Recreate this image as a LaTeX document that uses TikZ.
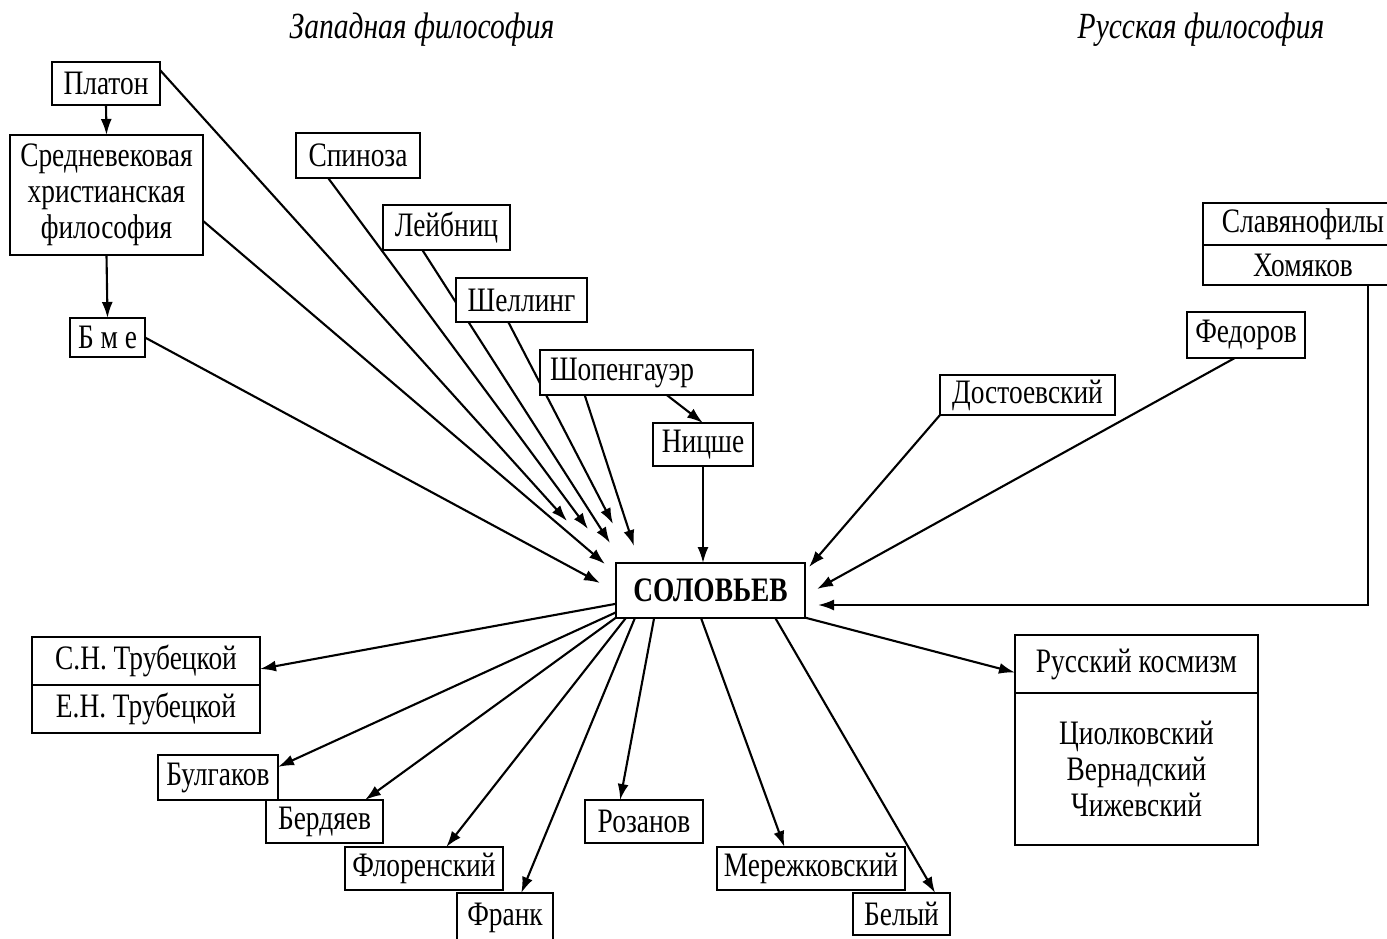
\documentclass[tikz,border=0pt]{standalone}
\usepackage{fontspec}
\setmainfont{Liberation Serif}[FakeStretch=0.8]
\usetikzlibrary{arrows.meta,backgrounds,calc}

\tikzset{
  box/.style={draw, fill=white, line width=1.4pt, inner sep=0pt, outer sep=0pt,
    align=center, font=\fontsize{19.5}{20.5}\selectfont},
  boxsize/.style 2 args={minimum width=#1*0.02cm, minimum height=#2*0.02cm},
  arr/.style={-{Latex[length=3.2mm,width=2.2mm]}, line width=1.2pt},
  heading/.style={font=\fontsize{21}{22}\selectfont\itshape}
}

\begin{document}
\begin{tikzpicture}[x=0.02cm,y=-0.02cm]
    \useasboundingbox (0,0) rectangle (1387,938);

    % Headings
    \node[heading] (west) at (422,30) {Западная философия};
    \node[heading] (east) at (1201,30) {Русская философия};

    % Western philosophy
    \node[box, boxsize={108}{43}] (plato) at (106,83.5) {Платон};
    \node[box, boxsize={193}{120}] (medieval) at (106.5,195) {Средневековая\\христианская\\философия};
    \node[box, boxsize={75}{39}] (bme) at (107.5,337.5) {Б м е};
    \node[box, boxsize={124}{45}] (spinoza) at (358,155.5) {Спиноза};
    \node[box, boxsize={127}{45}] (leibniz) at (446.5,227.5) {Лейбниц};
    \node[box, boxsize={131}{44}] (schelling) at (521.5,300) {Шеллинг};
    \node[box, boxsize={213}{45}, text width=3.86cm, align=left] (schopen) at (646.5,372.5) {Шопенгауэр};
    \node[box, boxsize={100}{43}] (nietzsche) at (703,444.5) {Ницше};

    % Centre
    \node[box, boxsize={189}{55}, font=\fontsize{19.5}{20}\selectfont\bfseries] (solov) at (710.5,590.5) {СОЛОВЬЕВ};

    % Russian philosophy
    \node[box, boxsize={200}{42}] (slavA) at (1303,224) {Славянофилы};
    \node[box, boxsize={200}{40}, anchor=north] (slavB) at (slavA.south) {Хомяков};
    \node[box, boxsize={118}{46}] (fedorov) at (1246,335) {Федоров};
    \node[box, boxsize={175}{40}] (dost) at (1027.5,395) {Достоевский};

    % Followers
    \node[box, boxsize={228}{48}] (trubA) at (146,661) {С.Н. Трубецкой};
    \node[box, boxsize={228}{48}, anchor=north] (trubB) at (trubA.south) {Е.Н. Трубецкой};
    \node[box, boxsize={120}{45}] (bulgakov) at (218,777.5) {Булгаков};
    \node[box, boxsize={117}{43}] (berdyaev) at (324.5,821.5) {Бердяев};
    \node[box, boxsize={158}{43}] (florensky) at (424,868.5) {Флоренский};
    \node[box, boxsize={96}{50}] (frank) at (505,918) {Франк};
    \node[box, boxsize={118}{43}] (rozanov) at (644,821.5) {Розанов};
    \node[box, boxsize={188}{43}] (merezh) at (811,868.5) {Мережковский};
    \node[box, boxsize={97}{42}] (bely) at (901.5,914) {Белый};
    \node[box, boxsize={243}{58}] (cosA) at (1136.5,664) {Русский космизм};
    \node[box, boxsize={243}{152}, anchor=north] (cosB) at (cosA.south) {Циолковский\\Вернадский\\Чижевский};

    % Arrow tips round Solovyov
    \coordinate (inPlato) at (567,521);
    \coordinate (inSpinoza) at (588,529);
    \coordinate (inSchelling) at (613,524);
    \coordinate (inLeibniz) at (610,543);
    \coordinate (inSchopen) at (634,546);
    \coordinate (inMedieval) at (605,564);
    \coordinate (inBme) at (600,583);
    \coordinate (inDost) at (809,567);
    \coordinate (inFedorov) at (817,589);
    \coordinate (inSlav) at (818,605);

    \begin{pgfonlayer}{background}
    % Western lines
    \draw[arr] (plato.south) -- (medieval.north);
    \draw[arr] (medieval.south) -- (bme.north);
    \draw[arr] (plato.14) -- (inPlato);
    \draw[arr] (medieval.-15) -- (inMedieval);
    \draw[arr] (bme.east) -- (inBme);
    \draw[arr] (spinoza.-143) -- (inSpinoza);
    \draw[arr] (leibniz.-137) -- (inLeibniz);
    \draw[arr] (schelling.-121) -- (inSchelling);
    \draw[arr] (schopen.-160) -- (inSchopen);
    \draw[arr] (schopen.-48) -- (nietzsche.north);
    \draw[arr] (nietzsche.south) -- (nietzsche.south |- solov.north);

    % Russian lines
    \draw[arr] (dost.south west) -- (inDost);
    \draw[arr] (fedorov.-116) -- (inFedorov);
    \draw[arr] ([xshift=1.3cm]slavB.south) |- (inSlav);

    % Outgoing lines
    \draw[arr] (solov.-172) -- (trubA.-4);
    \draw[arr] (solov.-167) -- (bulgakov.10);
    \draw[arr] (solov.-164) -- (berdyaev.28);
    \draw[arr] (solov.-162) -- (florensky.44);
    \draw[arr] (solov.-160) -- (frank.57);
    \draw[arr] (solov.-154) -- (rozanov.138);
    \draw[arr] (solov.-109) -- (merezh.141);
    \draw[arr] (solov.-23) -- (bely.32);
    \draw[arr] (solov.-16) -- (cosA.-176);
    \end{pgfonlayer}
\end{tikzpicture}
\end{document}
